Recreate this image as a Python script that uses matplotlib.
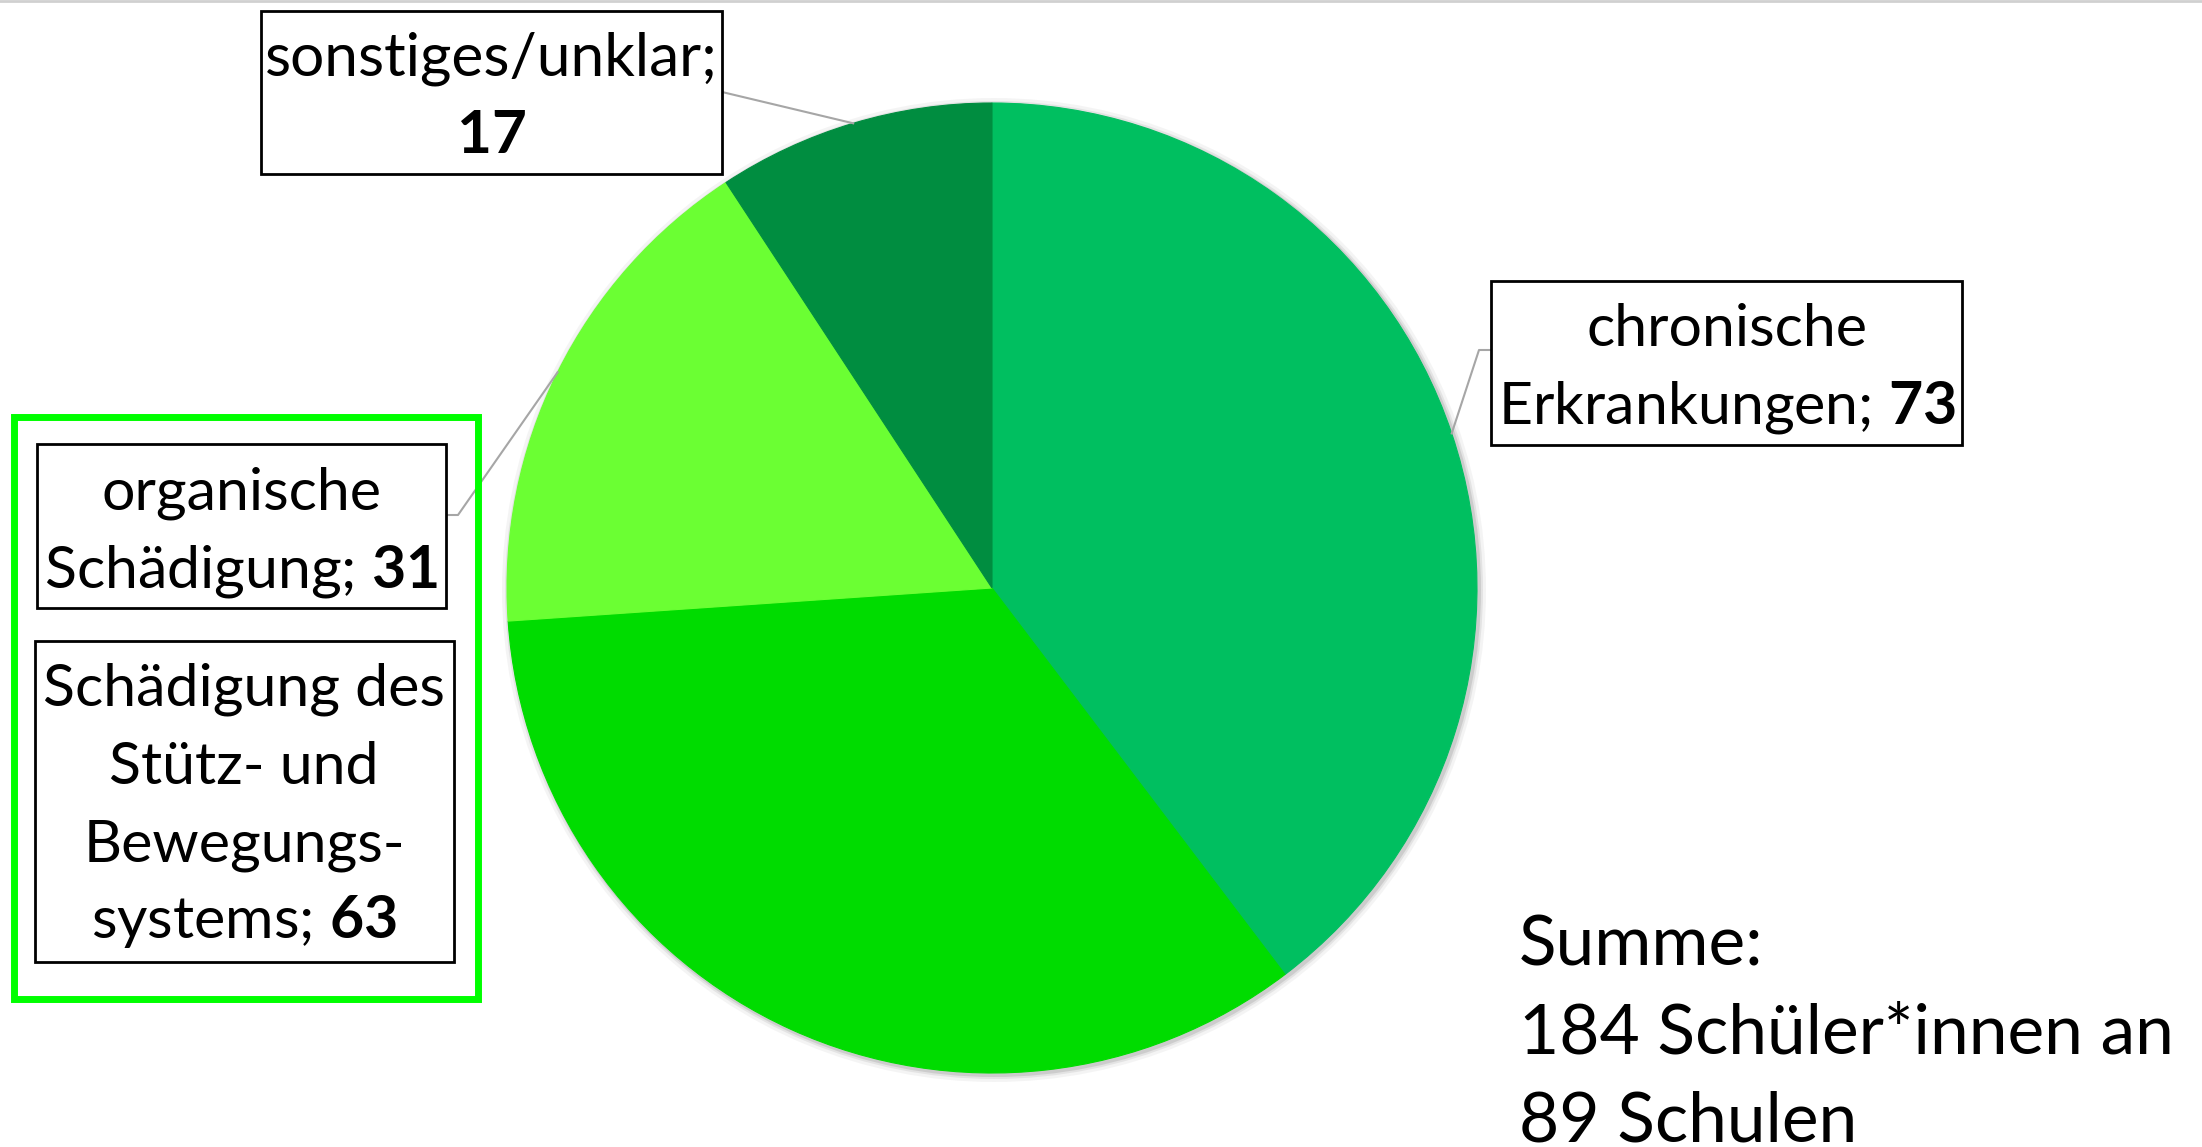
import numpy as np
import matplotlib
matplotlib.use("Agg")
import matplotlib.pyplot as plt
from matplotlib.patches import Rectangle, Circle

plt.rcParams['font.family'] = ['Lato', 'DejaVu Sans']
plt.rcParams['mathtext.fontset'] = 'custom'
plt.rcParams['mathtext.rm'] = 'Lato'
plt.rcParams['mathtext.bf'] = 'Lato:bold'

# Data (clockwise from 12 o'clock)
categories = ["chronische Erkrankungen",
              "Schädigung des Stütz- und Bewegungssystems",
              "organische Schädigung",
              "sonstiges/unklar"]
values = [73, 63, 31, 17]
colors = ["#00BF60", "#00DC00", "#6BFF33", "#008D40"]
summary = ["Summe:", "184 Schüler*innen an", "89 Schulen"]

# Canvas in pixel units (image coords, y down)
W, H = 2202, 1147
def Y(y):
    return H - y

fig = plt.figure(figsize=(W / 100, H / 100), dpi=100)
ax = fig.add_axes([0, 0, 1, 1])

cx, cy, R = 992, 588, 485

# soft shadow around the pie
for dr, a in [(7, 0.10), (4, 0.18), (2, 0.30)]:
    ax.add_patch(Circle((cx + 2, Y(cy) - 2), R + dr, color="#9a9a9a", alpha=a, lw=0, zorder=0))

wedges, _ = ax.pie(values, colors=colors, startangle=90, counterclock=False,
                   center=(cx, Y(cy)), radius=R,
                   wedgeprops=dict(linewidth=0.8))
for w, c in zip(wedges, colors):
    w.set_edgecolor(c)
    w.set_zorder(1)

ax.set_xlim(0, W)
ax.set_ylim(0, H)
ax.axis("off")

def edge_point(w):
    ang = np.deg2rad((w.theta1 + w.theta2) / 2)
    return cx + R * np.cos(ang), Y(cy) + R * np.sin(ang)

lead = dict(color="#A6A6A6", lw=1.5, zorder=2)

def box(x0, y0, x1, y1):
    ax.add_patch(Rectangle((x0, Y(y1)), x1 - x0, y1 - y0, fc="white", ec="black", lw=2, zorder=3))

def lines(xc, baselines, texts, size=42.5):
    for b, t in zip(baselines, texts):
        ax.text(xc, Y(b), t, ha="center", va="baseline", fontsize=size, zorder=4)

# chronische Erkrankungen
px, py = edge_point(wedges[0])
ax.plot([px, 1479, 1491], [py, Y(350), Y(350)], **lead)
box(1491, 281, 1962, 445)
lines(1727, [346, 423], ["chronische", r"Erkrankungen; $\mathbf{%d}$" % values[0]])

# green highlight frame
ax.add_patch(Rectangle((14, Y(999)), 464, 582, fill=False, ec="#00FF00", lw=5, zorder=3))

# Schädigung des Stütz- und Bewegungssystems
box(35, 641, 454, 962)
lines(244, [705, 784, 862, 938],
      ["Schädigung des", "Stütz- und", "Bewegungs-", r"systems; $\mathbf{%d}$" % values[1]])

# organische Schädigung
px, py = edge_point(wedges[2])
ax.plot([px, 458, 445], [py, Y(515), Y(515)], **lead)
box(37, 444, 446, 608)
lines(241, [510, 588], ["organische", r"Schädigung; $\mathbf{%d}$" % values[2]])

# sonstiges/unklar
px, py = edge_point(wedges[3])
ax.plot([px, 722], [py, Y(92)], **lead)
box(261, 11, 722, 174)
lines(491, [75, 153], ["sonstiges/unklar;", r"$\mathbf{%d}$" % values[3]], size=43.5)

# summary text
for b, t in zip([965, 1054, 1142], summary):
    ax.text(1519, Y(b), t, ha="left", va="baseline", fontsize=50, zorder=4)

# thin slide border at top
ax.plot([0, W], [H - 1, H - 1], color="#D0D0D0", lw=2, zorder=5)

fig.savefig("out.png", dpi=100)
